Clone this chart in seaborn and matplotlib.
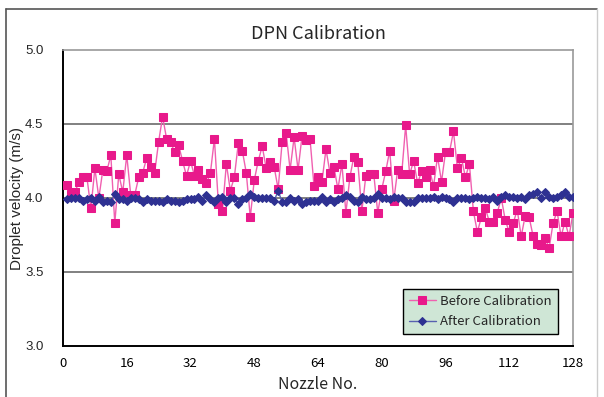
import numpy as np
import pandas as pd
import matplotlib
matplotlib.use("Agg")
import matplotlib.pyplot as plt
import seaborn as sns

nozzles = list(range(1, 129))
before = [
    4.09, 4.03, 4.04, 4.11, 4.14, 4.14, 3.93, 4.20, 4.00, 4.19, 4.18, 4.29, 3.83, 4.16, 4.04, 4.29,
    4.02, 4.02, 4.14, 4.17, 4.27, 4.21, 4.17, 4.38, 4.55, 4.40, 4.38, 4.31, 4.36, 4.25, 4.15, 4.25,
    4.15, 4.19, 4.13, 4.10, 4.17, 4.40, 3.96, 3.91, 4.23, 4.05, 4.14, 4.37, 4.32, 4.17, 3.87, 4.12,
    4.25, 4.35, 4.20, 4.24, 4.21, 4.06, 4.38, 4.44, 4.19, 4.41, 4.19, 4.42, 4.39, 4.40, 4.08, 4.14,
    4.11, 4.33, 4.17, 4.21, 4.06, 4.23, 3.90, 4.14, 4.28, 4.24, 3.91, 4.15, 4.16, 4.16, 3.90, 4.06,
    4.18, 4.32, 3.98, 4.19, 4.16, 4.49, 4.16, 4.25, 4.10, 4.18, 4.14, 4.19, 4.08, 4.28, 4.11, 4.31,
    4.31, 4.45, 4.20, 4.27, 4.14, 4.23, 3.91, 3.77, 3.87, 3.93, 3.84, 3.84, 3.90, 4.00, 3.85, 3.77,
    3.83, 3.92, 3.74, 3.88, 3.87, 3.74, 3.69, 3.68, 3.73, 3.66, 3.83, 3.91, 3.74, 3.84, 3.74, 3.90,
]
after = [
    3.99, 4.00, 4.00, 4.00, 3.98, 3.99, 4.00, 3.98, 4.01, 3.97, 3.98, 3.97, 4.03, 3.99, 3.99, 3.98,
    4.00, 4.00, 3.99, 3.97, 3.99, 3.98, 3.98, 3.98, 3.97, 3.99, 3.98, 3.98, 3.97, 3.98, 3.99, 3.99,
    3.99, 4.01, 3.98, 4.02, 3.99, 3.97, 4.00, 4.01, 3.97, 4.00, 4.00, 3.96, 3.99, 4.00, 4.03, 4.01,
    4.00, 4.00, 4.00, 4.00, 3.98, 4.05, 3.97, 3.97, 4.00, 3.98, 3.99, 3.96, 3.97, 3.98, 3.98, 3.98,
    4.01, 3.97, 3.99, 3.97, 3.99, 4.00, 4.02, 4.01, 3.98, 3.97, 4.01, 3.99, 3.99, 4.00, 4.03, 4.00,
    4.00, 3.99, 4.01, 4.00, 4.00, 3.97, 3.97, 3.97, 4.00, 4.00, 4.00, 4.00, 4.01, 3.99, 4.01, 4.00,
    3.99, 3.97, 4.00, 4.00, 4.00, 3.99, 4.00, 4.01, 4.00, 4.00, 3.99, 4.01, 3.98, 4.01, 4.02, 4.01,
    4.01, 4.00, 4.01, 3.99, 4.02, 4.03, 4.04, 4.00, 4.04, 4.01, 4.00, 4.01, 4.02, 4.04, 4.01, 4.01,
]
x_ticks = [0, 16, 32, 48, 64, 80, 96, 112, 128]
y_ticks = [3.0, 3.5, 4.0, 4.5, 5.0]
series_names = ["Before Calibration", "After Calibration"]

df = pd.DataFrame({"Nozzle": nozzles, series_names[0]: before, series_names[1]: after})

sns.set_style("white")
FONT = ["Noto Sans CJK JP", "DejaVu Sans"]
plt.rcParams["font.family"] = FONT

fig = plt.figure(figsize=(6.04, 3.97), dpi=100)
ax = fig.add_axes([63 / 604, 1 - 346 / 397, 510 / 604, 296 / 397])

for yv in [3.5, 4.0, 4.5]:
    ax.axhline(yv, color="#808080", lw=1.4, zorder=0)

sns.lineplot(data=df, x="Nozzle", y=series_names[0], ax=ax, color="#f060b0", lw=1.0,
             marker="s", markersize=6, markerfacecolor="#e8198b", markeredgecolor="#e8198b",
             label=series_names[0], zorder=3)
sns.lineplot(data=df, x="Nozzle", y=series_names[1], ax=ax, color="#5860b0", lw=1.0,
             marker="D", markersize=4.2, markerfacecolor="#2e3192", markeredgecolor="#2e3192",
             label=series_names[1], zorder=4)

ax.set_xlim(0, 128)
ax.set_ylim(3.0, 5.0)
ax.set_xticks(x_ticks)
ax.set_yticks(y_ticks)
ax.set_yticklabels([f"{v:.1f}" for v in y_ticks])
ax.tick_params(axis="x", direction="in", length=4, width=1, pad=8, labelsize=9.5, colors="black")
ax.tick_params(axis="y", direction="in", length=0, pad=14, labelsize=9.5)
for t in ax.get_yticklabels():
    t.set_fontfamily(["Liberation Sans", "DejaVu Sans"])

for s in ["left", "bottom"]:
    ax.spines[s].set_color("black")
    ax.spines[s].set_linewidth(1.4)
for s in ["top", "right"]:
    ax.spines[s].set_color("#999999")
    ax.spines[s].set_linewidth(1.2)

ax.set_xlabel("Nozzle No.", fontsize=11.5, labelpad=4)
ax.set_ylabel("Droplet velocity (m/s)", fontsize=11, va="center",
              fontfamily=["Liberation Sans", "DejaVu Sans"])
ax.yaxis.set_label_coords((17 - 63) / 510, 0.5)
ax.set_title("DPN Calibration", fontsize=13, pad=8)

leg = ax.legend(loc="lower right", bbox_to_anchor=(0.970, 0.040), frameon=True, fancybox=False,
                facecolor="#cfe6d6", edgecolor="black", framealpha=1, fontsize=9.5,
                handlelength=2.0, handletextpad=0.35, borderpad=0.45, labelspacing=0.55,
                borderaxespad=0.0)
leg.get_frame().set_linewidth(1.0)

# outer figure border (left and top edges visible)
fig.add_artist(plt.Line2D([6 / 604, 6 / 604], [0, 1 - 9 / 397], color="#555555", lw=1.2,
                          transform=fig.transFigure))
fig.add_artist(plt.Line2D([6 / 604, 597 / 604], [1 - 9 / 397, 1 - 9 / 397], color="#555555", lw=1.2,
                          transform=fig.transFigure))
fig.add_artist(plt.Line2D([597 / 604, 597 / 604], [0, 1 - 9 / 397], color="#cccccc", lw=1.0,
                          transform=fig.transFigure))

fig.savefig("out.png", dpi=100)
